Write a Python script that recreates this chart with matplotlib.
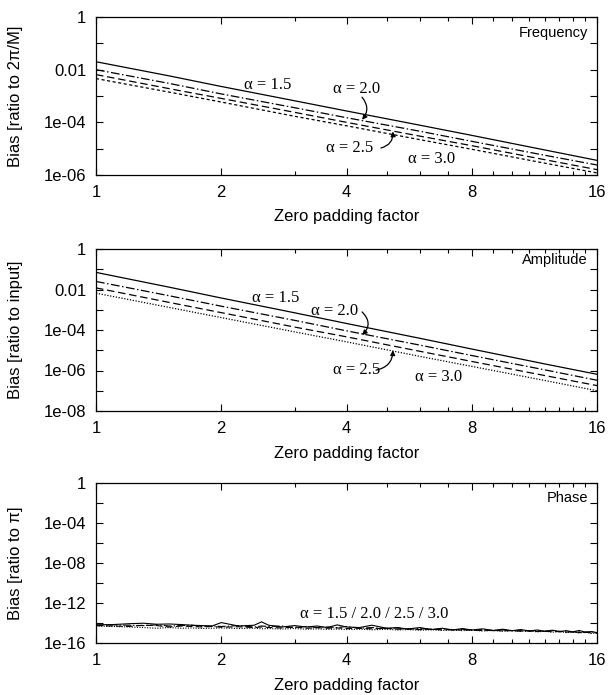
import numpy as np
import matplotlib
matplotlib.use("Agg")
import matplotlib.pyplot as plt
from matplotlib.ticker import FixedLocator, FixedFormatter, NullFormatter

# fonts: sans for axes, serif for the alpha annotations
plt.rcParams['font.family'] = ['Liberation Sans', 'DejaVu Sans']
SERIF = ['Liberation Serif', 'DejaVu Serif']

# x values (zero padding factor) for the smooth curves
pad_x = [1.0, 1.5, 2.0, 3.0, 4.0, 6.0, 8.0, 12.0, 16.0]

# Frequency bias (ratio to 2pi/M)
freq_a15 = [2.0e-2, 5.8e-3, 2.3e-3, 6.6e-4, 2.7e-4, 7.8e-5, 3.2e-5, 8.9e-6, 3.6e-6]
freq_a20 = [1.0e-2, 3.0e-3, 1.2e-3, 3.6e-4, 1.5e-4, 4.6e-5, 1.9e-5, 5.6e-6, 2.4e-6]
freq_a25 = [6.5e-3, 1.9e-3, 8.1e-4, 2.4e-4, 1.0e-4, 3.0e-5, 1.3e-5, 3.8e-6, 1.6e-6]
freq_a30 = [4.6e-3, 1.4e-3, 5.9e-4, 1.7e-4, 7.4e-5, 2.2e-5, 9.5e-6, 2.8e-6, 1.2e-6]

# Amplitude bias (ratio to input)
amp_a15 = [7.0e-2, 1.3e-2, 3.8e-3, 7.1e-4, 2.1e-4, 3.9e-5, 1.15e-5, 2.1e-6, 6.5e-7]
amp_a20 = [2.5e-2, 4.9e-3, 1.5e-3, 3.0e-4, 9.1e-5, 1.8e-5, 5.5e-6, 1.07e-6, 3.3e-7]
amp_a25 = [1.2e-2, 2.3e-3, 7.2e-4, 1.4e-4, 4.6e-5, 8.9e-6, 2.8e-6, 5.6e-7, 1.8e-7]
amp_a30 = [6.6e-3, 1.3e-3, 4.1e-4, 8.1e-5, 2.6e-5, 5.0e-6, 1.6e-6, 3.2e-7, 1.0e-7]

# Phase bias (ratio to pi), noisy round-off level
phase_x = [1.0, 1.1, 1.2, 1.3, 1.4, 1.5, 1.6, 1.7, 1.8, 1.9, 2.0, 2.2, 2.4, 2.5,
           2.6, 2.8, 3.0, 3.2, 3.4, 3.6, 3.8, 4.0, 4.3, 4.6, 5.0, 5.3, 5.6, 6.0,
           6.4, 6.8, 7.2, 7.6, 8.0, 8.5, 9.0, 9.5, 10.0, 10.5, 11.0, 11.5, 12.0,
           12.5, 13.0, 13.5, 14.0, 14.5, 15.0, 15.5, 16.0]
phase_a15 = [6.5e-15, 7.0e-15, 8.5e-15, 9.5e-15, 7.5e-15, 8.0e-15, 7.0e-15, 6.0e-15,
             5.5e-15, 5.0e-15, 1.1e-14, 5.0e-15, 6.0e-15, 1.3e-14, 6.0e-15, 4.0e-15,
             5.5e-15, 4.0e-15, 5.0e-15, 3.5e-15, 6.5e-15, 4.0e-15, 3.5e-15, 6.0e-15,
             3.0e-15, 3.5e-15, 2.5e-15, 3.5e-15, 2.2e-15, 3.0e-15, 2.0e-15, 2.8e-15,
             2.0e-15, 2.6e-15, 1.8e-15, 2.4e-15, 1.7e-15, 2.2e-15, 1.6e-15, 2.0e-15,
             1.5e-15, 1.9e-15, 1.4e-15, 1.7e-15, 1.3e-15, 1.8e-15, 1.2e-15, 1.4e-15,
             1.1e-15]
phase_a20 = [6.0e-15, 6.5e-15, 6.0e-15, 5.5e-15, 6.5e-15, 5.0e-15, 5.5e-15, 6.0e-15,
             4.5e-15, 5.0e-15, 4.5e-15, 5.5e-15, 4.0e-15, 5.0e-15, 4.5e-15, 5.0e-15,
             3.5e-15, 4.5e-15, 3.5e-15, 4.0e-15, 3.5e-15, 4.5e-15, 3.0e-15, 3.5e-15,
             2.8e-15, 3.2e-15, 2.4e-15, 2.8e-15, 2.2e-15, 2.6e-15, 2.0e-15, 2.4e-15,
             1.8e-15, 2.2e-15, 1.7e-15, 2.0e-15, 1.6e-15, 1.9e-15, 1.5e-15, 1.8e-15,
             1.4e-15, 1.7e-15, 1.3e-15, 1.6e-15, 1.2e-15, 1.5e-15, 1.1e-15, 1.3e-15,
             1.0e-15]
phase_a25 = [5.5e-15, 5.0e-15, 4.5e-15, 6.0e-15, 5.5e-15, 4.0e-15, 5.0e-15, 4.5e-15,
             4.0e-15, 4.5e-15, 3.8e-15, 4.2e-15, 3.5e-15, 4.0e-15, 3.6e-15, 3.2e-15,
             4.0e-15, 3.0e-15, 3.4e-15, 3.0e-15, 3.2e-15, 2.8e-15, 3.0e-15, 2.6e-15,
             3.0e-15, 2.4e-15, 2.6e-15, 2.2e-15, 2.5e-15, 2.0e-15, 2.3e-15, 1.9e-15,
             2.1e-15, 1.7e-15, 1.9e-15, 1.6e-15, 1.8e-15, 1.5e-15, 1.7e-15, 1.4e-15,
             1.6e-15, 1.3e-15, 1.5e-15, 1.2e-15, 1.4e-15, 1.1e-15, 1.3e-15, 1.0e-15,
             1.1e-15]
phase_a30 = [5.0e-15, 4.5e-15, 4.0e-15, 3.5e-15, 3.0e-15, 3.5e-15, 3.0e-15, 3.2e-15,
             2.8e-15, 3.0e-15, 3.2e-15, 2.8e-15, 3.0e-15, 2.6e-15, 2.8e-15, 2.5e-15,
             2.8e-15, 2.4e-15, 2.6e-15, 2.3e-15, 2.5e-15, 2.2e-15, 2.4e-15, 2.1e-15,
             2.3e-15, 2.0e-15, 2.2e-15, 1.9e-15, 2.1e-15, 1.8e-15, 2.0e-15, 1.7e-15,
             1.9e-15, 1.6e-15, 1.8e-15, 1.5e-15, 1.7e-15, 1.4e-15, 1.6e-15, 1.3e-15,
             1.5e-15, 1.2e-15, 1.4e-15, 1.1e-15, 1.3e-15, 1.0e-15, 1.2e-15, 0.9e-15,
             1.0e-15]

x_ticks = [1, 2, 4, 8, 16]
x_minor = [3, 5, 6, 7, 9, 10, 11, 12, 13, 14, 15]

LW = 0.9
STYLES = ['-', (0, (7, 2, 1.2, 2)), (0, (6, 3)), (0, (2.5, 2))]
STYLES_DOT = ['-', (0, (7, 2, 1.2, 2)), (0, (6, 3)), (0, (1, 1.3))]


def setup_axes(ax, ymin_exp, step_tick, step_label, ylabel, name, name_y):
    """Gnuplot-like frame: log axes, inward ticks on all four sides."""
    ax.set_xscale('log', base=2)
    ax.set_yscale('log')
    ax.set_xlim(1, 16)
    ax.set_ylim(10.0 ** ymin_exp, 1)

    ax.xaxis.set_major_locator(FixedLocator(x_ticks))
    ax.xaxis.set_major_formatter(FixedFormatter([str(v) for v in x_ticks]))
    ax.xaxis.set_minor_locator(FixedLocator(x_minor))
    ax.xaxis.set_minor_formatter(NullFormatter())

    exps = list(range(0, ymin_exp - 1, -step_tick))
    labels = []
    for e in exps:
        if e % step_label != 0:
            labels.append('')
        elif e == 0:
            labels.append('1')
        elif e == -2:
            labels.append('0.01')
        else:
            labels.append('1e-%02d' % (-e))
    ax.yaxis.set_major_locator(FixedLocator([10.0 ** e for e in exps]))
    ax.yaxis.set_major_formatter(FixedFormatter(labels))
    ax.yaxis.set_minor_locator(FixedLocator([]))

    ax.tick_params(which='both', direction='in', top=True, right=True,
                   labelsize=12, width=0.8)
    ax.tick_params(which='major', length=5, pad=7)
    ax.tick_params(which='minor', length=3)
    for s in ax.spines.values():
        s.set_linewidth(0.9)

    ax.set_xlabel('Zero padding factor', fontsize=12)
    ax.xaxis.label.set_va('center')
    ax.xaxis.set_label_coords(0.5, -0.265)
    ax.set_ylabel(ylabel, fontsize=12)
    ax.yaxis.set_label_coords(-0.145, 0.5)
    ax.text(0.982, name_y, name, transform=ax.transAxes, ha='right',
            va='center', fontsize=10.5)


def alpha_text(ax, x, y, s):
    ax.text(x, y, s, ha='center', va='center', fontsize=12, family=SERIF)


def arrow(ax, start, end, rad):
    ax.annotate('', xy=end, xytext=start,
                arrowprops=dict(arrowstyle='-|>', color='black', lw=0.9,
                                mutation_scale=7,
                                connectionstyle='arc3,rad=%s' % rad,
                                shrinkA=0, shrinkB=0))


fig = plt.figure(figsize=(6.16, 6.95), dpi=100)
W, H = 616.0, 695.0
left, right = 96, 597


def panel(top, bottom):
    return fig.add_axes([left / W, 1 - bottom / H, (right - left) / W,
                         (bottom - top) / H])


# Frequency panel
ax1 = panel(17, 175)
for ys, ls in zip([freq_a15, freq_a20, freq_a25, freq_a30], STYLES):
    ax1.plot(pad_x, ys, color='black', lw=LW, linestyle=ls)
setup_axes(ax1, -6, 1, 2, 'Bias [ratio to 2\u03c0/M]', 'Frequency', 0.90)
alpha_text(ax1, 2.59, 2.6e-3, '\u03b1 = 1.5')
alpha_text(ax1, 4.24, 1.85e-3, '\u03b1 = 2.0')
arrow(ax1, (4.36, 9e-4), (4.36, 1.25e-4), -0.4)
alpha_text(ax1, 4.08, 1.06e-5, '\u03b1 = 2.5')
arrow(ax1, (4.84, 1.06e-5), (5.17, 4.5e-5), 0.4)
alpha_text(ax1, 6.42, 4.1e-6, '\u03b1 = 3.0')

# Amplitude panel
ax2 = panel(249, 411)
for ys, ls in zip([amp_a15, amp_a20, amp_a25, amp_a30], STYLES_DOT):
    ax2.plot(pad_x, ys, color='black', lw=LW, linestyle=ls)
setup_axes(ax2, -8, 1, 2, 'Bias [ratio to input]', 'Amplitude', 0.93)
alpha_text(ax2, 2.71, 3.8e-3, '\u03b1 = 1.5')
alpha_text(ax2, 3.75, 8.7e-4, '\u03b1 = 2.0')
arrow(ax2, (4.36, 7.8e-4), (4.36, 5.6e-5), -0.5)
alpha_text(ax2, 4.24, 1.05e-6, '\u03b1 = 2.5')
arrow(ax2, (4.71, 1.05e-6), (5.17, 1.0e-5), 0.4)
alpha_text(ax2, 6.67, 4.8e-7, '\u03b1 = 3.0')

# Phase panel
ax3 = panel(483, 643)
for ys, ls in zip([phase_a15, phase_a20, phase_a25, phase_a30], STYLES_DOT):
    ax3.plot(phase_x, ys, color='black', lw=0.8, linestyle=ls)
setup_axes(ax3, -16, 2, 4, 'Bias [ratio to \u03c0]', 'Phase', 0.905)
alpha_text(ax3, 4.66, 7.9e-14, '\u03b1 = 1.5 / 2.0 / 2.5 / 3.0')

fig.savefig('out.png', dpi=100)
